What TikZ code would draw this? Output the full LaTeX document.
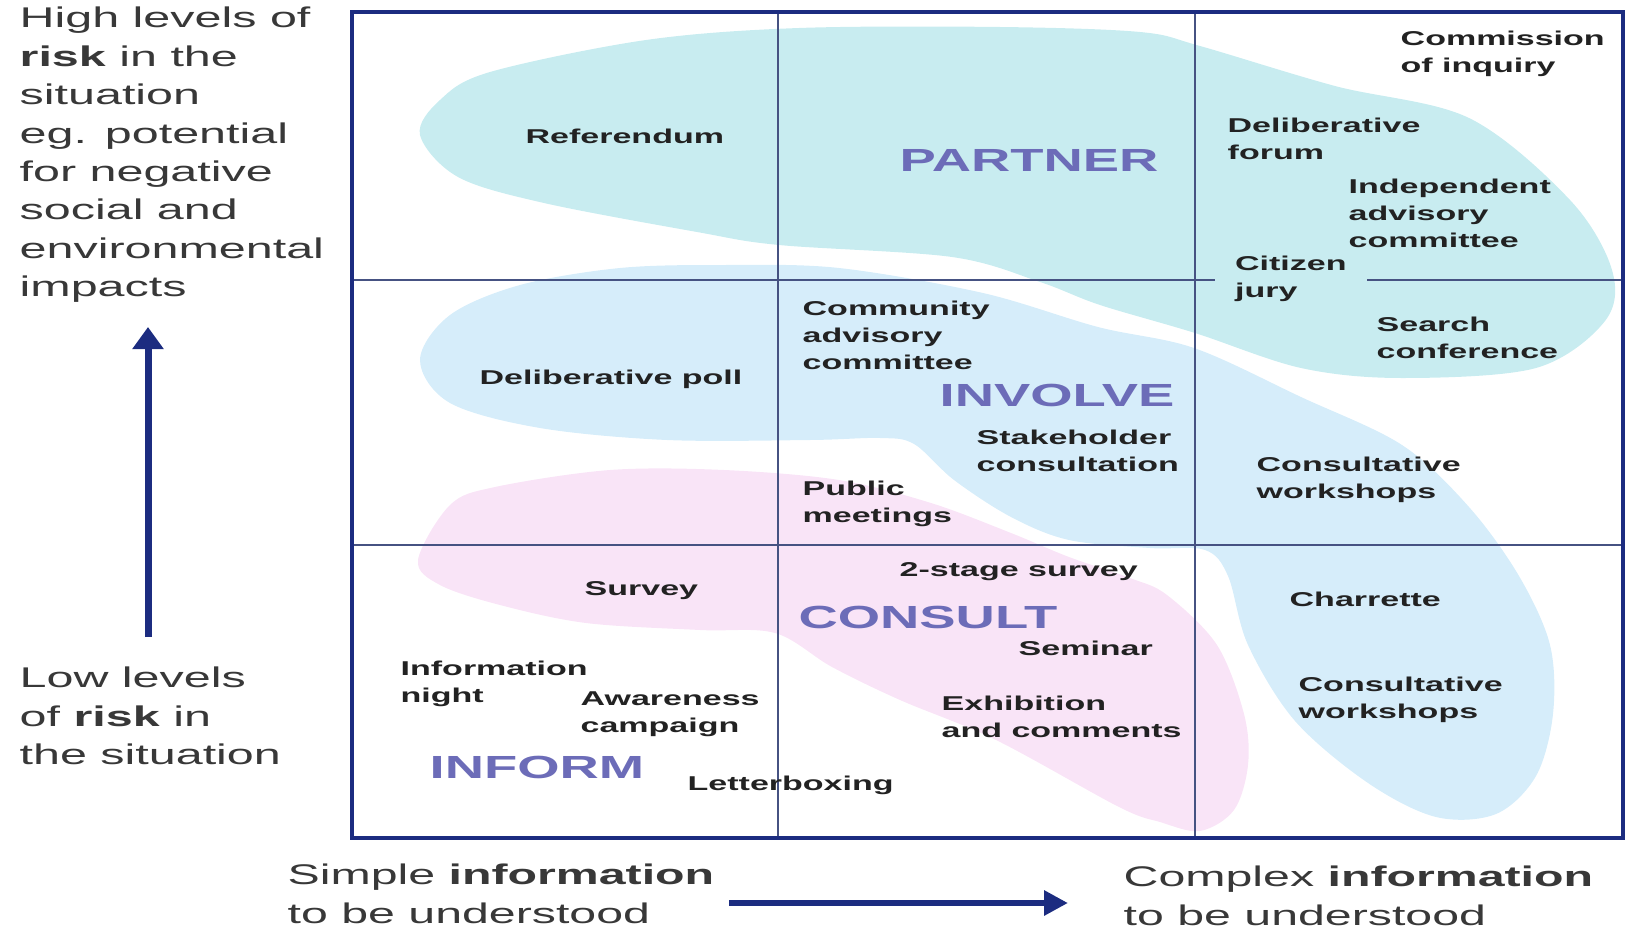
\documentclass[tikz,border=0pt]{standalone}
\usepackage{fontspec}
\setmainfont{Liberation Sans}
\usetikzlibrary{arrows.meta}

\definecolor{framebl}{RGB}{28,44,128}
\definecolor{gridbl}{RGB}{70,82,130}
\definecolor{partnerfill}{RGB}{200,236,240}
\definecolor{involvefill}{RGB}{214,237,250}
\definecolor{consultfill}{RGB}{249,228,247}
\definecolor{levelcol}{RGB}{108,108,184}
\definecolor{textcol}{RGB}{34,34,34}

\tikzset{
  method/.style={font=\fontsize{10}{13.5}\selectfont\bfseries, text=textcol,
                 align=left, inner sep=0pt, anchor=west, xscale=1.7},
  level/.style={font=\fontsize{16}{19}\selectfont\bfseries, text=levelcol,
                inner sep=0pt, xscale=1.7},
  axislabel/.style={font=\fontsize{14.25}{19.2}\selectfont, text=textcol!90,
                    align=left, inner sep=0pt, anchor=west, xscale=1.7},
  gridline/.style={draw=gridbl, line width=0.7pt},
  bigarrow/.style={draw=framebl, line width=3.5pt, -{Triangle[width=15pt,length=11pt]}}
}

\begin{document}
\begin{tikzpicture}[x=0.5pt, y=-0.5pt]
 \useasboundingbox (0,0) rectangle (1626,931);

 % the three regions
 \fill[consultfill] plot[smooth cycle, tension=0.55] coordinates {
   (418,560) (450,505) (495,487) (610,470) (724,470) (839,480) (931,503)
   (1011,533) (1069,557) (1130,578) (1167,595) (1217,645) (1244,714)
   (1248,765) (1234,810) (1200,831) (1160,822) (1119,807) (996,740)
   (900,700) (832,667) (775,633) (700,630) (586,623) (500,605) (440,585)};
 \fill[involvefill] plot[smooth cycle, tension=0.55] coordinates {
   (420,360) (450,315) (520,285) (620,268) (724,265) (839,268) (983,293)
   (1098,327) (1194,348) (1301,397) (1402,445) (1469,507) (1519,576)
   (1550,645) (1553,714) (1536,776) (1496,814) (1436,817) (1368,783)
   (1295,721) (1248,645) (1228,576) (1205,550) (1150,548) (1069,540)
   (1011,517) (954,480) (914,444) (880,438) (810,440) (667,440) (540,428)
   (450,403)};
 \fill[partnerfill] plot[smooth cycle, tension=0.55] coordinates {
   (420,135) (440,100) (490,72) (646,40) (799,28) (1000,27) (1140,32)
   (1200,46) (1335,86) (1469,118) (1570,200) (1612,270) (1605,321)
   (1536,368) (1402,378) (1301,368) (1195,333) (1100,305) (1040,282)
   (952,257) (779,245) (697,232) (544,203) (458,177)};

 \draw[gridline] (778,12) -- (778,838) (1195,12) -- (1195,838)
                 (352,280) -- (1623,280) (352,545) -- (1623,545);

 \node[method] (referendum) at (525,136) {Referendum};
 \node[level] (partner) at (1029,160) {PARTNER};
 \node[method] (commission) at (1400,54) {Commission\\of inquiry};
 \node[method] (delibforum) at (1227,139) {Deliberative\\forum};
 \node[method] (indepadv) at (1348,213) {Independent\\advisory\\committee};
 \node[method, fill=partnerfill, inner xsep=6pt] (citizen) at (1214,279) {Citizen\\jury};
 \node[method] (search) at (1376,338) {Search\\conference};

 \node[method] (community) at (802,335) {Community\\advisory\\committee};
 \node[method] (delibpoll) at (479,379) {Deliberative poll};
 \node[level] (involve) at (1057,395) {INVOLVE};
 \node[method] (stakeholder) at (976,451) {Stakeholder\\consultation};
 \node[method] (workshopsup) at (1256,480) {Consultative\\workshops};
 \node[method] (publicmeet) at (802,504) {Public\\meetings};

 \node[method] (twostage) at (899,572) {2-stage survey};
 \node[method] (survey) at (584,591) {Survey};
 \node[level] (consult) at (928,617) {CONSULT};
 \node[method] (charrette) at (1289,599) {Charrette};
 \node[method] (seminar) at (1018,648) {Seminar};
 \node[method] (infonight) at (400,684) {Information\\night};
 \node[method] (awareness) at (580,714) {Awareness\\campaign};
 \node[method] (exhibition) at (941,717) {Exhibition\\and comments};
 \node[method] (workshopslow) at (1298,700) {Consultative\\workshops};
 \node[level] (inform) at (537,767) {INFORM};
 \node[method] (letterbox) at (687,785) {Letterboxing};

 \draw[framebl, line width=2.2pt] (352,12) rectangle (1623,838);

 % axes
 \node[axislabel] (highrisk) at (19,155) {High levels of\\\textbf{risk} in the\\situation\\eg. potential\\for negative\\social and\\environmental\\impacts};
 \node[axislabel] (lowrisk) at (19,716) {Low levels\\of \textbf{risk} in\\the situation};
 \node[axislabel, font=\fontsize{14.2}{19.7}\selectfont] (simpleinfo) at (287,894) {Simple \textbf{information}\\to be understood};
 \node[axislabel, font=\fontsize{14.2}{19.7}\selectfont] (complexinfo) at (1123,896) {Complex \textbf{information}\\to be understood};

 \coordinate (riskfoot) at (148,637);
 \coordinate (risktip) at (148,327);
 \coordinate (infofoot) at (729,903);
 \coordinate (infotip) at (1068,903);
 \draw[bigarrow] (riskfoot) -- (risktip);
 \draw[bigarrow, line width=3pt, -{Triangle[width=12pt,length=12pt]}] (infofoot) -- (infotip);
\end{tikzpicture}
\end{document}
